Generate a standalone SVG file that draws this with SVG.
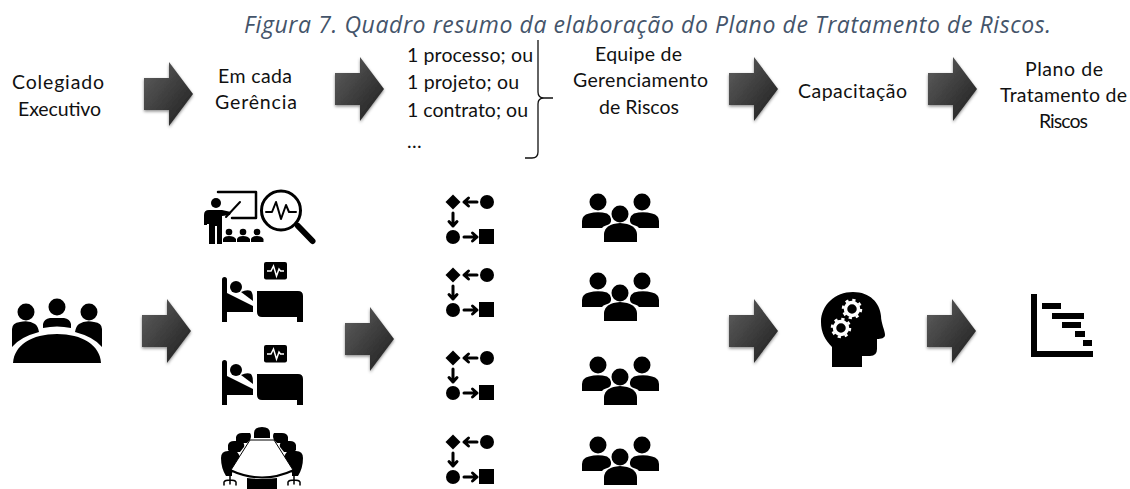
<svg xmlns="http://www.w3.org/2000/svg" xmlns:xlink="http://www.w3.org/1999/xlink" width="1130" height="489" viewBox="0 0 1130 489">
<style>
.t{font-family:"Lato","Liberation Sans",sans-serif;font-size:19.500px;fill:#111}
.cap{font-family:"Open Sans","Liberation Sans",sans-serif;font-style:italic;font-size:23px;fill:#44546a}
.ln{fill:none;stroke:#000;stroke-linecap:round;stroke-linejoin:round}
</style>
<defs>
<linearGradient id="ag" x1="0" y1="0" x2="1" y2="1"><stop offset="0" stop-color="#606060"/><stop offset="1" stop-color="#1c1c1c"/></linearGradient>
<filter id="sh" x="-20%" y="-20%" width="140%" height="140%"><feDropShadow dx="0" dy="1.500" stdDeviation="1.500" flood-color="#000" flood-opacity=".45"/></filter>
<path id="arrow" d="M0 16H25V0L49 32 25 64V48H0Z" fill="url(#ag)" filter="url(#sh)"/>
<g id="proc">
<path d="M7 -.5L14.500 7 7 14.500 -.5 7Z"/><circle cx="41" cy="7" r="7"/><circle cx="7" cy="42" r="7"/><rect x="33" y="34" width="15" height="15"/>
<path class="ln" stroke-width="3" d="M31 7H18M22.500 3L18 7 22.500 11M7 18V31M3 26.500L7 31 11 26.500M18 42H31M26.500 38L31 42 26.500 46"/>
</g>
<g id="team">
<circle cx="16" cy="9" r="8.500"/><circle cx="60" cy="9" r="8.500"/><circle cx="38" cy="21" r="8.500"/>
<path d="M0 35V28Q0 22 7 20.500Q16 18 25 20.500Q28 22 29 26Q30 31 24 32.500Q21 33 20 35Z"/>
<path d="M77 35V28Q77 22 70 20.500Q61 18 52 20.500Q49 22 48 26Q47 31 53 32.500Q56 33 57 35Z"/>
<path d="M22 49V41Q23 31 38 30Q54 31 55 41V49Z"/>
</g>
<g id="bed">
<path d="M222 279.500A2.500 2.500 0 0 1 227 279.500V322H222Z"/>
<rect x="264" y="262" width="23" height="17.500" rx="2"/>
<path style="stroke:#fff;fill:none;stroke-width:1.500" d="M267 271H271L273.500 266 276.500 276 279 269 280.500 271H284"/>
<circle cx="236" cy="287" r="6"/>
<path d="M227 293L253 306V312H227Z"/>
<path d="M241 292Q247 289 251 291Q253 293 253 301Z"/>
<path d="M257 291H298Q303 291 303 296V322H297V317H262Q257 317 257 312Z"/>
</g>
</defs>
<rect width="1130" height="489" fill="#fff"/>
<g id="caption"><text class="cap" x="244" y="33" textLength="807" lengthAdjust="spacing">Figura 7. Quadro resumo da elaboração do Plano de Tratamento de Riscos.</text></g>
<g id="connectors">
<use xlink:href="#arrow" href="#arrow" x="144" y="62"/>
<use xlink:href="#arrow" href="#arrow" x="335" y="57"/>
<use xlink:href="#arrow" href="#arrow" x="729" y="57"/>
<use xlink:href="#arrow" href="#arrow" x="928" y="57"/>
<use xlink:href="#arrow" href="#arrow" x="142" y="299"/>
<use xlink:href="#arrow" href="#arrow" x="345" y="307"/>
<use xlink:href="#arrow" href="#arrow" x="729" y="299"/>
<use xlink:href="#arrow" href="#arrow" x="927" y="299"/>
</g>
<g id="colegiado-label"><text class="t" x="12" y="89" textLength="92">Colegiado</text><text class="t" x="18" y="116" textLength="83">Executivo</text></g>
<g id="gerencia-label"><text class="t" x="218" y="83" textLength="74">Em cada</text><text class="t" x="215" y="109" textLength="82">Gerência</text></g>
<g id="lista-label">
<text class="t" x="407" y="62" textLength="126">1 processo; ou</text>
<text class="t" x="407" y="89" textLength="112">1 projeto; ou</text>
<text class="t" x="407" y="117" textLength="121">1 contrato; ou</text>
<text class="t" x="407" y="148" textLength="12">…</text>
<path d="M538 40V92Q538 98 544 98H553M544 98Q538 98 538 104V152Q538 158 532 158H525" fill="none" stroke="#111" stroke-width="1.300"/>
</g>
<g id="equipe-label"><text class="t" x="595" y="61" textLength="87">Equipe de</text><text class="t" x="573" y="87" textLength="135">Gerenciamento</text><text class="t" x="599" y="114" textLength="80">de Riscos</text></g>
<g id="capacitacao-label"><text class="t" x="798" y="98" textLength="109">Capacitação</text></g>
<g id="plano-label"><text class="t" x="1025" y="76" textLength="78">Plano de</text><text class="t" x="1000" y="102" textLength="127">Tratamento de</text><text class="t" x="1039" y="128" textLength="49">Riscos</text></g>
<g id="icon-colegiado">
<circle cx="26" cy="312" r="8.500"/><circle cx="57" cy="307" r="8.500"/><circle cx="89" cy="312" r="8.500"/>
<path d="M12 347V329Q12 323 20 322Q29 320 35 324Q38 326 39 332Q20 337 12 347Z"/>
<path d="M43 328V324Q44 319 50 318H64Q70 319 71 324V328Q57 325 43 328Z"/>
<path d="M102 347V329Q102 323 94 322Q85 320 79 324Q76 326 75 332Q94 337 102 347Z"/>
<path d="M13 363C14 345 32 334 57 334C82 334 100 345 101 363Z"/>
</g>
<g id="icon-apresentacao">
<path class="ln" stroke-width="2.500" d="M218 192H256V218H232"/>
<circle cx="216" cy="203" r="5"/>
<path d="M209 210H222L231 212 230 215 222 216V244H217V226H215V244H209V224H207V225H204V215Q204 210 209 210Z"/>
<path class="ln" stroke-width="2" d="M226 217L240 202"/>
<circle cx="229" cy="232" r="3.300"/><circle cx="243" cy="232" r="3.300"/><circle cx="257" cy="232" r="3.300"/>
<path d="M223 242V239Q224 236 229 236Q234 236 236 239V242ZM237 242V239Q238 236 243 236Q248 236 250 239V242ZM251 242V239Q252 236 257 236Q262 236 263.500 239V242Z"/>
<circle cx="281" cy="210.500" r="19.500" fill="none" stroke="#000" stroke-width="3"/>
<path class="ln" stroke-width="6" d="M298 226L312.500 241"/>
<path class="ln" stroke-width="2" d="M266 212H272L276 202 281 219 286 205 289 212H296"/>
</g>
<use id="icon-cama1" xlink:href="#bed" href="#bed"/>
<use id="icon-cama2" xlink:href="#bed" href="#bed" y="83"/>
<g id="icon-reuniao">
<path d="M254 438V433Q254 427 262 427Q270 427 270 433V438Z"/>
<path d="M236 441V437Q237 433 242 433H250Q252 436 250 440L247 443H238Z"/>
<path d="M288 441V437Q287 433 282 433H274Q272 436 274 440L277 443H286Z"/>
<path d="M228 450V445Q229 441 234 441H242Q245 444 244 447L240 452H230Z"/>
<path d="M296 450V445Q295 441 290 441H282Q279 444 280 447L284 452H294Z"/>
<path d="M221 458Q221 451 228 451H236Q240 454 240 460L232 473V476H226Q221 468 221 458Z"/>
<path d="M303 458Q303 451 296 451H288Q284 454 284 460L292 473V476H298Q303 468 303 458Z"/>
<path class="ln" stroke-width="1.500" d="M230 476V484M224 485V482Q225 480 230 480Q235 480 236 482V485M294 476V484M288 485V482Q289 480 294 480Q299 480 300 482V485"/>
<path d="M250 440H274L293 470Q262 484 231 470Z" fill="#fff"/>
<path d="M230 470Q262 485 294 470" fill="none" stroke="#000" stroke-width="2"/>
<path d="M250 440H274L293 470" fill="none" stroke="#000" stroke-width="1"/>
<path d="M250 440L231 470" fill="none" stroke="#000" stroke-width="1"/>
<path d="M247 478Q262 480 277 478V489H247Z"/>
</g>
<use id="processo1" xlink:href="#proc" href="#proc" x="446" y="195"/>
<use id="processo2" xlink:href="#proc" href="#proc" x="446" y="268"/>
<use id="processo3" xlink:href="#proc" href="#proc" x="446" y="351"/>
<use id="processo4" xlink:href="#proc" href="#proc" x="446" y="435"/>
<use id="equipe1" xlink:href="#team" href="#team" x="582" y="193"/>
<use id="equipe2" xlink:href="#team" href="#team" x="582" y="272"/>
<use id="equipe3" xlink:href="#team" href="#team" x="582" y="356"/>
<use id="equipe4" xlink:href="#team" href="#team" x="582" y="436"/>
<g id="icon-capacitacao">
<path d="M832 367V347C825 340 821 332 821 322C821 305 835 292 853 292C870 292 880 303 881 316C881 323 885 331 885 335C885 338 881 339 877 339V349Q877 356 870 356H862V367Z"/>
<g fill="none" stroke="#fff"><circle cx="852" cy="309" r="6.500" stroke-width="3.500"/><circle cx="852" cy="309" r="9" stroke-width="2.500" stroke-dasharray="3.200 3.870"/><circle cx="841" cy="328" r="6.500" stroke-width="3.500"/><circle cx="841" cy="328" r="9" stroke-width="2.500" stroke-dasharray="3.200 3.870"/></g>
</g>
<g id="icon-plano">
<path d="M1031 294H1037V351H1093V357H1031Z"/>
<rect x="1042" y="303" width="19" height="6"/><rect x="1052" y="313" width="32" height="6"/><rect x="1062" y="322" width="19" height="6"/><rect x="1075" y="331" width="10" height="6"/><rect x="1083" y="340" width="9" height="6"/>
</g>
</svg>
